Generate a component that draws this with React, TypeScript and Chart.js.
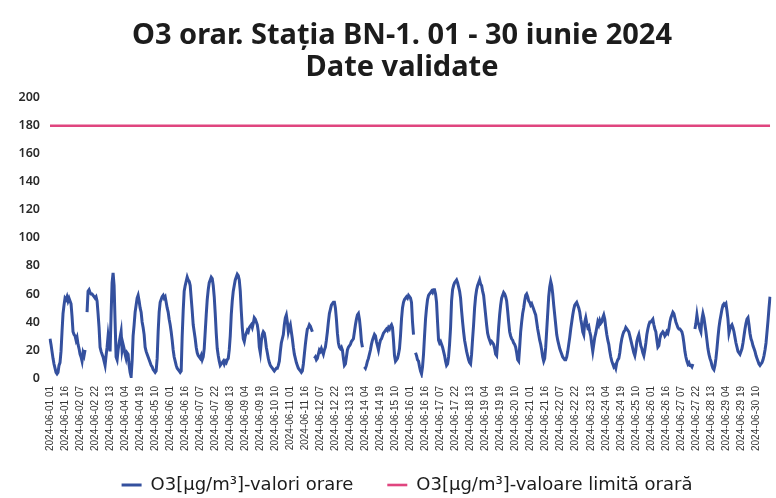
import React, { useEffect, useRef } from "react";
import { Chart, registerables } from "chart.js";

Chart.register(...registerables);

// ---- text ----
const titleLines = ["O3 orar. Stația BN-1. 01 - 30 iunie 2024", "Date validate"];
const seriesNames = ["O3[µg/m³]-valori orare", "O3[µg/m³]-valoare limită orară"];

// ---- axis settings ----
const yMin = 0;
const yMax = 200;
const yStep = 20;
const labelEvery = 15; // every 15th hourly category is labelled
const hourlyLimit = 180;

// ---- hourly O3 values (µg/m³), one row per day, hours 01..24 ----
const june01 = [28, 24, 19, 14, 10, 7, 4, 3, 4, 9, 11, 19, 33, 46, 52, 57, 56, 58, 55, 57, 55, 53, 44, 33];
const june02 = [31, 30, 27, 29, 24, 21, 17, 15, 12, 18, 16, 20, null, 47, 62, 63, 61, 60, 60, 59, 58, 57, 58, 55];
const june03 = [46, 36, 22, 19, 17, 15, 12, 9, 16, 22, 30, 24, 19, 45, 68, 75, 66, 40, 15, 13, 20, 25, 29, 33];
const june04 = [20, 24, 21, 17, 14, 18, 17, 9, 4, 1, 12, 30, 38, 47, 52, 57, 59, 55, 50, 47, 40, 36, 31, 22];
const june05 = [19, 17, 15, 13, 11, 9, 8, 6, 5, 4, 5, 14, 33, 47, 54, 56, 58, 59, 57, 58, 54, 50, 47, 42];
const june06 = [38, 33, 27, 20, 15, 12, 9, 7, 6, 5, 4, 5, 30, 48, 62, 66, 69, 72, 70, 69, 66, 57, 48, 38];
const june07 = [33, 28, 22, 18, 16, 15, 14, 16, 13, 15, 21, 33, 45, 56, 63, 68, 70, 72, 71, 66, 58, 46, 32, 21];
const june08 = [16, 12, 9, 10, 11, 12, 10, 12, 11, 13, 14, 20, 30, 45, 55, 62, 66, 70, 72, 74, 73, 70, 62, 48];
const june09 = [36, 28, 26, 30, 32, 34, 33, 36, 37, 38, 36, 39, 43, 42, 40, 38, 33, 22, 18, 26, 31, 33, 32, 28];
const june10 = [22, 18, 14, 11, 9, 8, 7, 6, 5, 6, 7, 7, 9, 12, 19, 25, 28, 31, 38, 43, 45, 40, 33, 36];
const june11 = [38, 33, 28, 22, 17, 14, 11, 9, 7, 6, 5, 4, 5, 10, 17, 24, 30, 35, 36, 38, 37, 35, 33, null];
const june12 = [14, 15, 13, 14, 17, 20, 19, 21, 19, 17, 20, 22, 27, 33, 40, 46, 49, 52, 53, 54, 54, 50, 42, 32];
const june13 = [25, 22, 21, 22, 20, 14, 9, 10, 15, 20, 22, 23, 24, 26, 27, 28, 33, 38, 42, 45, 46, 42, 35, 26];
const june14 = [22, null, 8, 7, 9, 12, 14, 17, 20, 24, 27, 29, 31, 30, 26, 23, 20, 24, 27, 28, 30, 32, 33, 34];
const june15 = [35, 34, 36, 35, 37, 38, 36, 27, 16, 12, 13, 14, 17, 21, 30, 42, 50, 54, 56, 57, 58, 57, 59, 58];
const june16 = [57, 54, 40, 31, null, 18, 16, 13, 12, 8, 5, 3, 8, 17, 30, 42, 50, 56, 59, 60, 61, 62, 61, 63];
const june17 = [63, 60, 54, 40, 27, 25, 26, 24, 22, 19, 16, 12, 9, 10, 15, 24, 36, 55, 63, 66, 68, 69, 70, 68];
const june18 = [65, 62, 57, 48, 40, 33, 27, 23, 19, 16, 13, 11, 10, 17, 28, 38, 50, 58, 63, 66, 68, 70, 67, 66];
const june19 = [62, 59, 52, 45, 38, 32, 29, 27, 25, 26, 25, 24, 21, 17, 16, 25, 36, 45, 52, 57, 59, 61, 60, 58];
const june20 = [55, 48, 40, 33, 30, 28, 27, 25, 24, 22, 18, 13, 12, 22, 33, 40, 46, 50, 55, 59, 60, 58, 55, 54];
const june21 = [52, 53, 51, 49, 47, 45, 40, 35, 31, 27, 24, 20, 15, 12, 14, 22, 34, 46, 58, 65, 69, 66, 60, 52];
const june22 = [45, 38, 31, 27, 24, 21, 19, 17, 15, 14, 13, 13, 15, 19, 24, 29, 35, 40, 45, 49, 52, 53, 54, 52];
const june23 = [50, 47, 42, 38, 33, 31, 40, 43, 39, 36, 37, 33, 30, 24, 19, 24, 29, 32, 36, 40, 38, 41, 39, 40];
const june24 = [43, 45, 42, 36, 31, 27, 24, 19, 15, 12, 10, 8, 9, 7, 11, 13, 14, 18, 24, 28, 31, 33, 34, 36];
const june25 = [35, 34, 33, 30, 27, 24, 21, 18, 16, 20, 26, 29, 31, 27, 23, 21, 18, 16, 20, 25, 31, 35, 38, 40];
const june26 = [40, 41, 42, 38, 35, 33, 27, 22, 23, 28, 31, 32, 33, 32, 30, 31, 33, 32, 35, 40, 43, 45, 47, 46];
const june27 = [43, 40, 38, 36, 35, 35, 34, 33, 30, 25, 19, 15, 12, 10, 11, 9, 9, 8, 10, null, 35, 39, 45, 40];
const june28 = [38, 35, 33, 42, 46, 43, 38, 33, 27, 21, 17, 14, 12, 9, 7, 6, 9, 14, 21, 29, 36, 41, 45, 49];
const june29 = [52, 53, 52, 53, 48, 42, 32, 35, 37, 38, 36, 33, 29, 25, 22, 19, 18, 17, 19, 21, 25, 30, 35, 39];
const june30 = [42, 43, 38, 32, 28, 26, 23, 21, 19, 16, 14, 12, 10, 9, 10, 11, 13, 16, 20, 25, 33, 41, 50, 58];

const days = [
  june01, june02, june03, june04, june05, june06, june07, june08, june09, june10,
  june11, june12, june13, june14, june15, june16, june17, june18, june19, june20,
  june21, june22, june23, june24, june25, june26, june27, june28, june29, june30,
];

const pad2 = (n: number) => (n < 10 ? "0" + n : "" + n);

// categories: "2024-06-DD HH" with hours 01..24
const categories: string[] = [];
days.forEach((day, d) => {
  day.forEach((_, h) => {
    categories.push(`2024-06-${pad2(d + 1)} ${pad2(h + 1)}`);
  });
});
const o3Hourly: (number | null)[] = ([] as (number | null)[]).concat(...days);
const limitSeries = categories.map(() => hourlyLimit);

// small layout nudges: centre title/legend like the original, let x labels run past their box
const nudgePlugin = {
  id: "nudge",
  afterLayout(chart: any) {
    const lg = chart.legend;
    if (lg) {
      lg.left += 19;
      lg.right += 19;
    }
    const t = chart.titleBlock;
    if (t) {
      t.left += 14;
      t.right += 14;
    }
    const xs = chart.scales && chart.scales.x;
    if (xs) xs.bottom = chart.height;
  },
};

export default function App() {
  const ref = useRef<HTMLCanvasElement | null>(null);

  useEffect(() => {
    if (!ref.current) return;
    const chart = new Chart(ref.current, {
      type: "line",
      data: {
        labels: categories,
        datasets: [
          {
            label: seriesNames[0],
            data: o3Hourly,
            borderColor: "#34509e",
            backgroundColor: "#34509e",
            borderWidth: 3,
            pointRadius: 0,
            tension: 0,
            spanGaps: false,
          },
          {
            label: seriesNames[1],
            data: limitSeries,
            borderColor: "#e0457f",
            backgroundColor: "#e0457f",
            borderWidth: 2.6,
            pointRadius: 0,
            tension: 0,
          },
        ],
      },
      plugins: [nudgePlugin],
      options: {
        animation: false,
        responsive: false,
        events: [],
        layout: { padding: { left: 0, right: 0, top: 0, bottom: -6 } },
        plugins: {
          title: {
            display: true,
            text: titleLines,
            color: "#1c1c1c",
            font: { family: "Noto Sans", size: 29, weight: "bold", lineHeight: 1.1 },
            padding: { top: 20, bottom: 14 },
          },
          legend: {
            position: "bottom",
            labels: {
              usePointStyle: true,
              pointStyle: "line",
              pointStyleWidth: 20,
              boxHeight: 4,
              color: "#1c1c1c",
              padding: 34,
              font: { family: "DejaVu Sans", size: 18 },
            },
          },
          tooltip: { enabled: false },
        },
        scales: {
          x: {
            type: "category",
            grid: { display: false, drawTicks: false },
            border: { display: false },
            afterBuildTicks: (scale: any) => {
              scale.ticks = scale.ticks.filter((t: any) => t.value % labelEvery === 0);
            },
            afterFit: (scale: any) => {
              scale.height = 64;
            },
            ticks: {
              autoSkip: false,
              minRotation: 90,
              maxRotation: 90,
              padding: 8,
              color: "#333333",
              font: { family: "Liberation Sans", size: 10 },
            },
          },
          y: {
            min: yMin,
            max: yMax,
            grid: { display: false, drawTicks: false },
            border: { display: false },
            afterFit: (scale: any) => {
              scale.width = 50;
            },
            ticks: {
              stepSize: yStep,
              padding: 10,
              color: "#2a2a2a",
              font: { family: "Noto Sans", size: 12.5, weight: "600" },
            },
          },
        },
      },
    });
    return () => chart.destroy();
  }, []);

  return (
    <div style={{ position: "fixed", left: 0, top: 0, width: 776, height: 498, background: "#ffffff" }}>
      <canvas ref={ref} width={776} height={498} style={{ display: "block", width: 776, height: 498 }} />
    </div>
  );
}
